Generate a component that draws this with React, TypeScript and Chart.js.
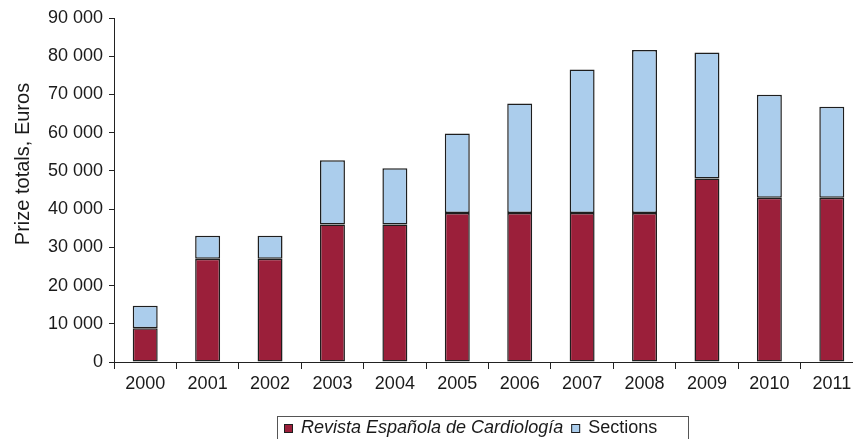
import React, { useEffect, useRef } from "react";
import { Chart, registerables } from "chart.js";

Chart.register(...registerables);

const categories = ["2000", "2001", "2002", "2003", "2004", "2005", "2006", "2007", "2008", "2009", "2010", "2011"];
const revistaValues = [8800, 27000, 27000, 36000, 36000, 39000, 39000, 39000, 39000, 48000, 43000, 43000];
const sectionsValues = [5900, 6000, 6000, 16800, 14700, 20800, 28600, 37500, 42600, 33000, 26900, 23800];
const seriesLabels = ["Revista Española de Cardiología", "Sections"];
const yTitle = "Prize totals, Euros";

const RED = "#9b1f3a";
const BLUE = "#abcdec";
const EDGE = "#1e1e1e";
const AXIS = "#222222";
const TEXT = "#1a1a1a";
const FONT = "'Liberation Sans', Arial, Helvetica, sans-serif";

function fmt(v: number) {
  return String(v).replace(/\B(?=(\d{3})+(?!\d))/g, " ");
}

const decorPlugin = {
  id: "decor",
  afterDraw(chart: any) {
    const ctx = chart.ctx;
    const area = chart.chartArea;
    ctx.save();
    ctx.translate(area.left - 91, 164);
    ctx.rotate(-Math.PI / 2);
    ctx.fillStyle = TEXT;
    ctx.font = `20px ${FONT}`;
    ctx.textAlign = "center";
    ctx.textBaseline = "middle";
    ctx.fillText(yTitle, 0, 0);
    ctx.restore();

    ctx.save();
    const ds = chart.data.datasets;
    const boxLeft = 277;
    const boxTop = 416;
    const boxRight = 688;
    ctx.strokeStyle = "#555";
    ctx.lineWidth = 1;
    ctx.strokeRect(boxLeft + 0.5, boxTop + 0.5, boxRight - boxLeft, 40);
    let x = boxLeft + 7;
    const baseline = 433;
    ds.forEach((d: any, i: number) => {
      ctx.fillStyle = d.backgroundColor;
      ctx.fillRect(x, 424, 9, 9);
      ctx.strokeStyle = EDGE;
      ctx.lineWidth = 1;
      ctx.strokeRect(x + 0.5, 424.5, 8, 8);
      x += 17;
      ctx.font = `${i === 0 ? "italic " : ""}18px ${FONT}`;
      ctx.fillStyle = TEXT;
      ctx.textAlign = "left";
      ctx.textBaseline = "alphabetic";
      ctx.fillText(d.label, x, baseline);
      x += ctx.measureText(d.label).width + 8;
    });
    ctx.restore();
  },
};

export default function App() {
  const ref = useRef<HTMLCanvasElement | null>(null);
  useEffect(() => {
    document.documentElement.style.overflow = "hidden";
    document.body.style.overflow = "hidden";
    if (!ref.current) return;
    const chart = new Chart(ref.current, {
      type: "bar",
      data: {
        labels: categories,
        datasets: [
          {
            label: seriesLabels[0],
            data: revistaValues,
            backgroundColor: RED,
            borderColor: EDGE,
            borderWidth: 1.5,
            borderSkipped: false,
            categoryPercentage: 0.8,
            barPercentage: 0.5,
          },
          {
            label: seriesLabels[1],
            data: sectionsValues,
            backgroundColor: BLUE,
            borderColor: EDGE,
            borderWidth: 1.5,
            borderSkipped: false,
            categoryPercentage: 0.8,
            barPercentage: 0.5,
          },
        ],
      },
      options: {
        animation: false,
        responsive: true,
        maintainAspectRatio: false,
        layout: { padding: { top: 18, left: 0, right: 3, bottom: 37 } },
        plugins: {
          legend: { display: false },
          tooltip: { enabled: false },
        },
        scales: {
          x: {
            stacked: true,
            grid: { display: true, drawOnChartArea: false, offset: true, tickLength: 7, color: AXIS, lineWidth: 1 },
            border: { display: true, color: AXIS, width: 1 },
            ticks: { color: TEXT, font: { family: FONT, size: 18 }, padding: 4, maxRotation: 0, autoSkip: false },
            afterFit: (s: any) => { s.height = 40; },
          },
          y: {
            stacked: true,
            min: 0,
            max: 90000,
            grid: { display: true, drawOnChartArea: false, tickLength: 5, color: AXIS, lineWidth: 1 },
            border: { display: true, color: AXIS, width: 1 },
            ticks: {
              stepSize: 10000,
              color: TEXT,
              font: { family: FONT, size: 18 },
              padding: 6,
              callback: (v: any) => fmt(Number(v)),
            },
            afterFit: (s: any) => { s.width = 114; },
          },
        },
      },
      plugins: [decorPlugin],
    });
    return () => chart.destroy();
  }, []);
  return (
    <div style={{ position: "fixed", left: 0, top: 0, width: 866, height: 439, background: "#fff" }}>
      <canvas ref={ref} />
    </div>
  );
}
